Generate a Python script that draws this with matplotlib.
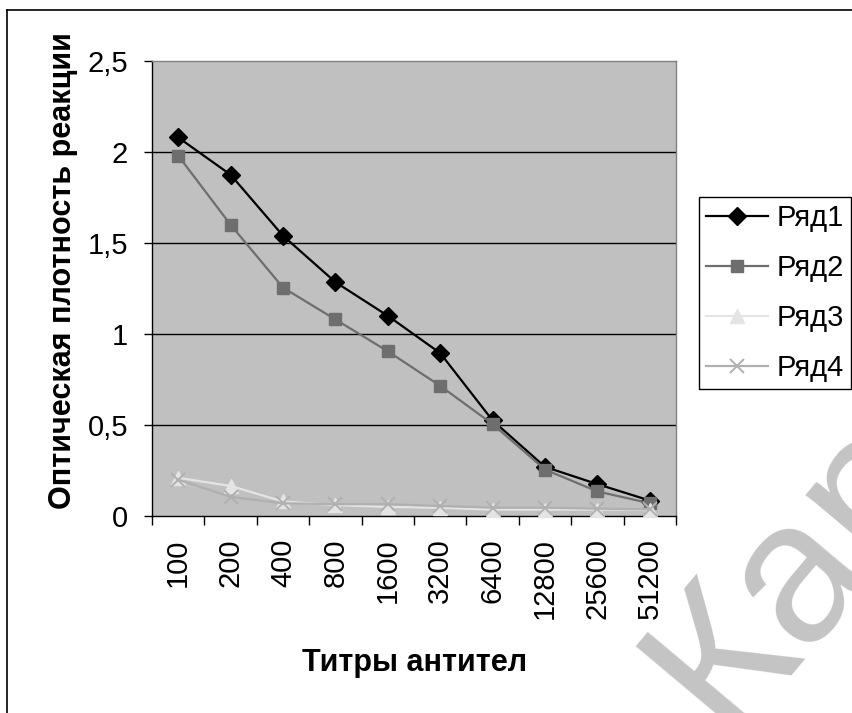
import matplotlib
matplotlib.use("Agg")
import matplotlib.pyplot as plt
from matplotlib.lines import Line2D

plt.rcParams['font.family'] = ['Liberation Sans', 'DejaVu Sans']

categories = ["100", "200", "400", "800", "1600", "3200", "6400", "12800", "25600", "51200"]
series1 = [2.08, 1.875, 1.54, 1.285, 1.10, 0.895, 0.525, 0.27, 0.175, 0.085]
series2 = [1.98, 1.60, 1.255, 1.08, 0.905, 0.715, 0.505, 0.255, 0.135, 0.07]
series3 = [0.21, 0.165, 0.08, 0.06, 0.05, 0.045, 0.035, 0.035, 0.035, 0.035]
series4 = [0.20, 0.105, 0.07, 0.065, 0.065, 0.055, 0.046, 0.046, 0.04, 0.037]
series_names = ["Ряд1", "Ряд2", "Ряд3", "Ряд4"]
y_ticks = [0, 0.5, 1, 1.5, 2, 2.5]
y_ticklabels = ["0", "0,5", "1", "1,5", "2", "2,5"]
y_title = "Оптическая плотность реакции"
x_title = "Титры антител"
watermark = "Кар"

W, H = 853, 713
fig = plt.figure(figsize=(W / 100, H / 100), dpi=100)
fig.patch.set_facecolor('white')

ax = fig.add_axes([152 / W, 1 - 516 / H, (676 - 152) / W, (516 - 61) / H])
ax.set_facecolor('#C0C0C0')

xs = [i + 0.5 for i in range(len(categories))]
styles = [
    dict(color='black', marker='D', markersize=9.5, markerfacecolor='black', markeredgecolor='black', lw=1.6),
    dict(color='#6E6E6E', marker='s', markersize=8.5, markerfacecolor='#6E6E6E', markeredgecolor='#6E6E6E', lw=1.6),
    dict(color='#E4E4E4', marker='^', markersize=10, markerfacecolor='#E4E4E4', markeredgecolor='#E4E4E4', lw=1.6),
    dict(color='#B0B0B0', marker='x', markersize=10, markeredgewidth=1.4, lw=1.6),
]
for vals, name, st in zip([series1, series2, series3, series4], series_names, styles):
    ax.plot(xs, vals, label=name, clip_on=False, zorder=3, **st)

ax.set_xlim(0, len(categories))
ax.set_ylim(0, 2.5)
ax.set_yticks(y_ticks)
ax.set_yticklabels(y_ticklabels, fontsize=21)
for y in y_ticks[1:-1]:
    ax.axhline(y, color='black', lw=1.0, zorder=1)

ax.set_xticks(range(len(categories) + 1))
ax.set_xticklabels([])
ax.set_xticks(xs, minor=True)
ax.set_xticklabels(categories, minor=True, rotation=90, fontsize=21)
ax.tick_params(axis='x', which='minor', length=0, pad=16)
ax.tick_params(axis='x', which='major', length=6.5, width=1, direction='out')
ax.tick_params(axis='y', length=5.8, width=1, direction='out', pad=11.5)

ax.spines['left'].set_color('black')
ax.spines['bottom'].set_color('black')
ax.spines['top'].set_color('#808080')
ax.spines['right'].set_color('#808080')
for s in ax.spines.values():
    s.set_linewidth(1.0)

fig.text(63 / W, 1 - 271 / H, y_title, rotation=90, ha='center', va='center',
         fontsize=22, fontweight='bold')
fig.text(415 / W, 1 - 663 / H, x_title, ha='center', va='center',
         fontsize=22, fontweight='bold')

leg = ax.legend(loc='center left', bbox_to_anchor=(699 / W, 1 - 293 / H),
                bbox_transform=fig.transFigure, fontsize=21, frameon=True,
                fancybox=False, edgecolor='black', framealpha=1,
                handlelength=2.1, handletextpad=0.3, labelspacing=0.75,
                borderpad=0.25, borderaxespad=0)
leg.get_frame().set_linewidth(1.0)

# outer chart frame
fig.add_artist(Line2D([7 / W, 7 / W], [-0.1, 1 - 10 / H], transform=fig.transFigure,
                      color='black', lw=1.2))
fig.add_artist(Line2D([7 / W, 1.1], [1 - 10 / H, 1 - 10 / H], transform=fig.transFigure,
                      color='black', lw=1.2))

fig.text(725 / W, 1 - 735 / H, watermark, rotation=50, rotation_mode='anchor',
         ha='left', va='baseline', fontsize=145, color='#C4C4C4', zorder=0)

fig.savefig('out.png', dpi=100)
